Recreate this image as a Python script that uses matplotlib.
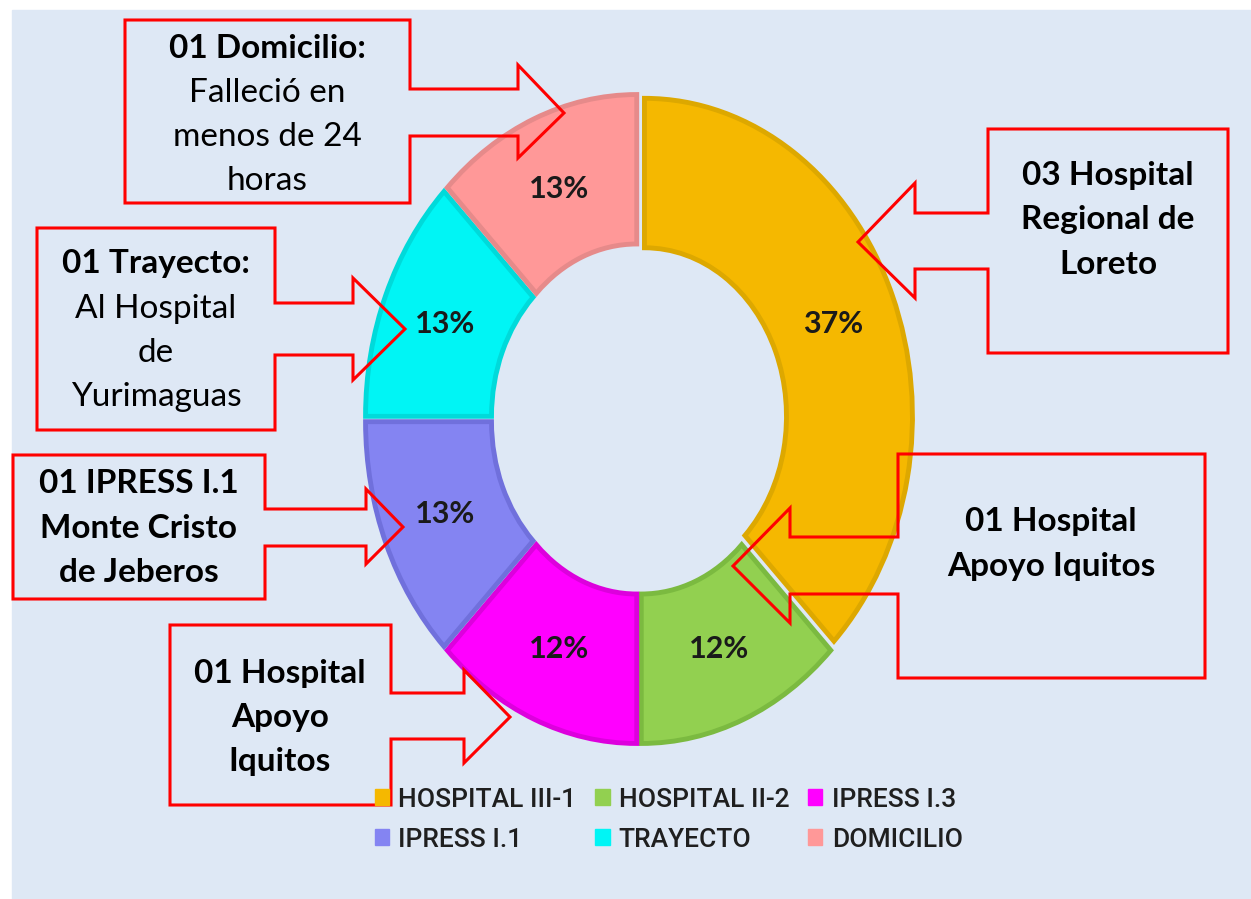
import matplotlib.pyplot as plt
from matplotlib.patches import Rectangle, Polygon, Patch

# Data
categories = ['HOSPITAL III-1', 'HOSPITAL II-2', 'IPRESS I.3', 'IPRESS I.1', 'TRAYECTO', 'DOMICILIO']
counts = [3, 1, 1, 1, 1, 1]
pct_labels = ['37%', '12%', '12%', '13%', '13%', '13%']
colors = ['#F5B800', '#92D050', '#FF00FF', '#8484F2', '#00F5F5', '#FF9898']
edges = ['#DDA800', '#7BBA40', '#DD00DD', '#7070DC', '#00DADA', '#E68A8A']

BG = '#DEE8F5'
W, H = 1251, 899


def px(x, y):
    # pixel from top-left -> figure fraction
    return x / W, 1 - y / H


fig = plt.figure(figsize=(12.51, 8.99), dpi=100, facecolor='white')
fig.patches.append(Rectangle(px(12, 899), (W - 12) / W, (899 - 10) / H,
                             transform=fig.transFigure, color=BG, zorder=-5))

# donut axes, stretched so the ring is an ellipse like the original
cx, cy, rx, ry = 639, 419, 268, 318
ax = fig.add_axes([(cx - rx) / W, (H - cy - ry) / H, 2 * rx / W, 2 * ry / H])
ax.set_facecolor('none')
wedges, texts, autotexts = ax.pie(
    counts, colors=colors, startangle=90, counterclock=False,
    explode=[0.022] * 6, autopct='%d', pctdistance=0.76,
    wedgeprops=dict(width=0.47, linewidth=3.5),
    textprops=dict(fontsize=22, fontweight='bold', color='#1a1a1a', family='Lato'))
for w, ec in zip(wedges, edges):
    w.set_edgecolor(ec)
for t, lab in zip(autotexts, pct_labels):
    t.set_text(lab)
ax.set_aspect('auto')
ax.set_xlim(-1, 1)
ax.set_ylim(-1, 1)
ax.axis('off')

# legend (row-major order like the original)
handles = [Patch(facecolor=c, edgecolor=c) for c in colors]
order = [0, 3, 1, 4, 2, 5]
fig.legend([handles[i] for i in order], [categories[i] for i in order],
           ncol=3, loc='upper left', bbox_to_anchor=px(351, 764),
           frameon=False, handlelength=0.55, handleheight=0.55, handletextpad=0.35,
           columnspacing=0.7, labelspacing=0.6, labelcolor='#1f1f1f',
           prop=dict(family='Roboto', size=19, weight='medium'))


# callouts: box + arrow, red outline, no fill
def callout_right(l, t, r, b, st, sb, hx, ht, hb, tip):
    return [(l, t), (r, t), (r, st), (hx, st), (hx, ht), tip, (hx, hb),
            (hx, sb), (r, sb), (r, b), (l, b)]


def callout_left(l, t, r, b, st, sb, hx, ht, hb, tip):
    return [(l, t), (r, t), (r, b), (l, b), (l, sb), (hx, sb), (hx, hb),
            tip, (hx, ht), (hx, st), (l, st)]


shapes = [
    callout_right(125, 20, 410, 203, 89, 136, 518, 65, 158, (564, 113)),
    callout_right(37, 228, 275, 430, 303, 355, 353, 278, 380, (405, 329)),
    callout_right(13, 455, 265, 599, 509, 546, 366, 489, 564, (403, 527)),
    callout_right(170, 625, 391, 805, 693, 739, 464, 670, 763, (510, 717)),
    callout_left(988, 129, 1228, 353, 213, 269, 915, 183, 298, (858, 242)),
    callout_left(898, 454, 1205, 678, 537, 594, 790, 508, 623, (733, 566)),
]
for s in shapes:
    fig.patches.append(Polygon([px(x, y) for x, y in s], closed=True, fill=False,
                               edgecolor='#FF0000', linewidth=2.2,
                               transform=fig.transFigure, zorder=5))

# callout texts: (center x, first line y, [(text, bold), ...])
notes = [
    (267, 48, [('01 Domicilio:', True), ('Falleció en', False),
               ('menos de 24', False), ('horas', False)]),
    (156, 264, [('01 Trayecto:', True), ('Al Hospital', False),
                ('de', False), ('Yurimaguas', False)]),
    (139, 484, [('01 IPRESS I.1', True), ('Monte Cristo', True), ('de Jeberos', True)]),
    (280, 673, [('01 Hospital', True), ('Apoyo', True), ('Iquitos', True)]),
    (1108, 175, [('03 Hospital', True), ('Regional de', True), ('Loreto', True)]),
    (1051, 522, [('01 Hospital', True), ('Apoyo Iquitos', True)]),
]
for x, y0, lines in notes:
    for i, (txt, bold) in enumerate(lines):
        fig.text(*px(x, y0 + i * 44.5), txt, ha='center', va='center',
                 fontsize=24, family='Lato', color='black',
                 fontweight='bold' if bold else 'normal', zorder=6)

fig.savefig('out.png', dpi=100, facecolor='white')
